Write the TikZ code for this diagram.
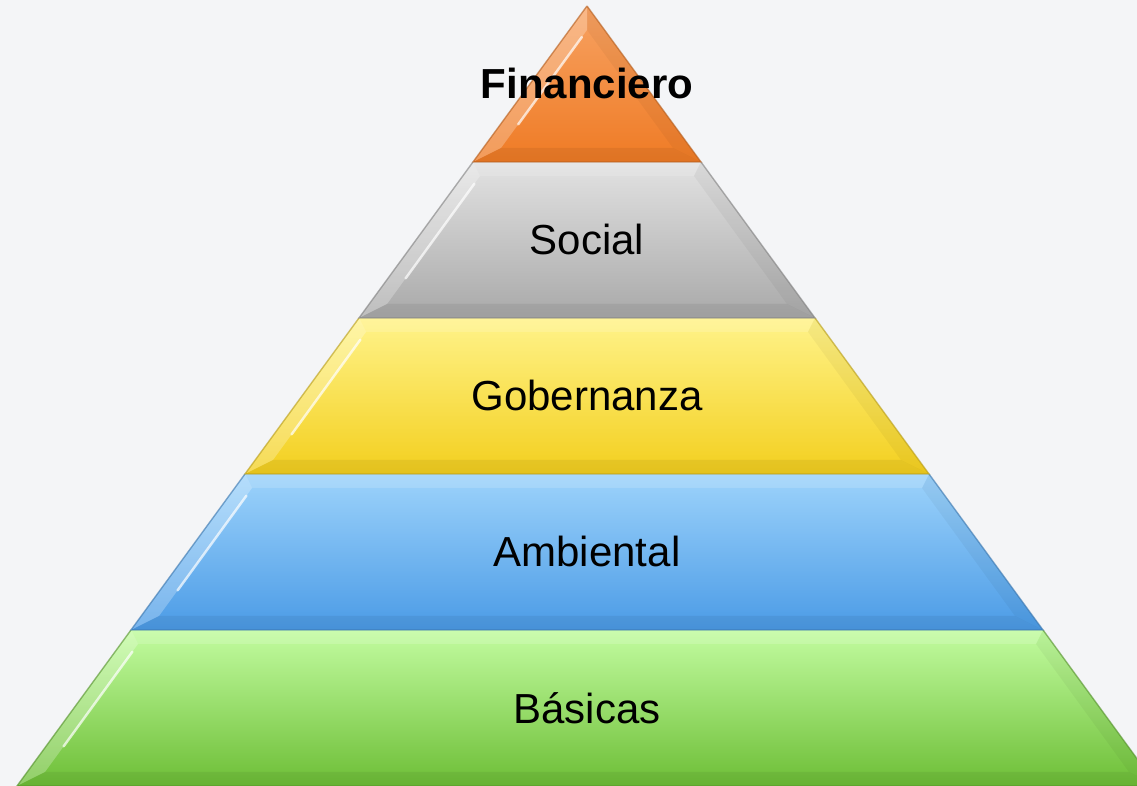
\documentclass[tikz,border=0pt]{standalone}
\usepackage{fontspec}
\setmainfont{Liberation Sans}
\usepackage{tikz}
\usetikzlibrary{calc}
\definecolor{bgGray}{HTML}{F4F5F7}
\definecolor{finTop}{HTML}{F7A262}
\definecolor{finBot}{HTML}{EF7B25}
\definecolor{socTop}{HTML}{E2E2E2}
\definecolor{socBot}{HTML}{A9A9A9}
\definecolor{gobTop}{HTML}{FFF38A}
\definecolor{gobBot}{HTML}{F3CF1E}
\definecolor{ambTop}{HTML}{9DD3FB}
\definecolor{ambBot}{HTML}{4B9BE6}
\definecolor{basTop}{HTML}{C2FCA0}
\definecolor{basBot}{HTML}{6DBE36}
\tikzstyle{layerText}=[font=\fontsize{23.9}{28.7}\selectfont, text=black]
\tikzstyle{layerEdge}=[line width=0.8pt, draw opacity=0.6]
\tikzstyle{bevelLight}=[fill=white, fill opacity=0.25]
\tikzstyle{bevelDark}=[fill=black, fill opacity=0.06]
\tikzstyle{glint}=[white, line width=1.4pt, line cap=round, opacity=0.7]

\begin{document}
\begin{tikzpicture}[x=0.02cm, y=0.02cm]
      \fill[bgGray] (0,0) rectangle (1137,786);
      \clip (0,0) rectangle (1137,786);

      \coordinate (apex) at (587,780);
      \coordinate (baseL) at (17,0);
      \coordinate (baseR) at (1157,0);

      % one band per level, from the base up
      \foreach \k/\lo/\hi/\ct/\cb/\ix/\iy/\name/\txt in {
        1/0/0.2/basTop/basBot/7/14/basicas/{Básicas},
        2/0.2/0.4/ambTop/ambBot/7/14/ambiental/{Ambiental},
        3/0.4/0.6/gobTop/gobBot/7/14/gobernanza/{Gobernanza},
        4/0.6/0.8/socTop/socBot/7/14/social/{Social},
        5/0.8/1/finTop/finBot/0/24/financiero/{\textbf{Financiero}}}{
        \coordinate (bl\k) at ($(baseL)!\lo!(apex)$);
        \coordinate (br\k) at ($(baseR)!\lo!(apex)$);
        \coordinate (tl\k) at ($(baseL)!\hi!(apex)$);
        \coordinate (tr\k) at ($(baseR)!\hi!(apex)$);
        \coordinate (ibl\k) at ($(bl\k)+(28,14)$);
        \coordinate (ibr\k) at ($(br\k)+(-28,14)$);
        \coordinate (itl\k) at ($(tl\k)+(\ix,-\iy)$);
        \coordinate (itr\k) at ($(tr\k)+(-\ix,-\iy)$);

        \shade[top color=\ct, bottom color=\cb]
        (bl\k) -- (br\k) -- (tr\k) -- (tl\k) -- cycle;
        \fill[bevelLight] (bl\k) -- (tl\k) -- (itl\k) -- (ibl\k) -- cycle;
        \fill[bevelLight, fill opacity=0.15] (tl\k) -- (tr\k) -- (itr\k) -- (itl\k) -- cycle;
        \fill[bevelDark, fill opacity=0.04] (tr\k) -- (br\k) -- (ibr\k) -- (itr\k) -- cycle;
        \fill[bevelDark] (bl\k) -- (br\k) -- (ibr\k) -- (ibl\k) -- cycle;
        \draw[glint] ($(itl\k)!0.06!(ibl\k)$) -- ($(itl\k)!0.8!(ibl\k)$);
        \draw[layerEdge, \cb!75!black] (tl\k) -- (bl\k) -- (br\k) -- (tr\k);

        \node[layerText] (\name) at
        ($0.25*(bl\k)+0.25*(br\k)+0.25*(tl\k)+0.25*(tr\k)$) {\txt};
      }
    \end{tikzpicture}
\end{document}
